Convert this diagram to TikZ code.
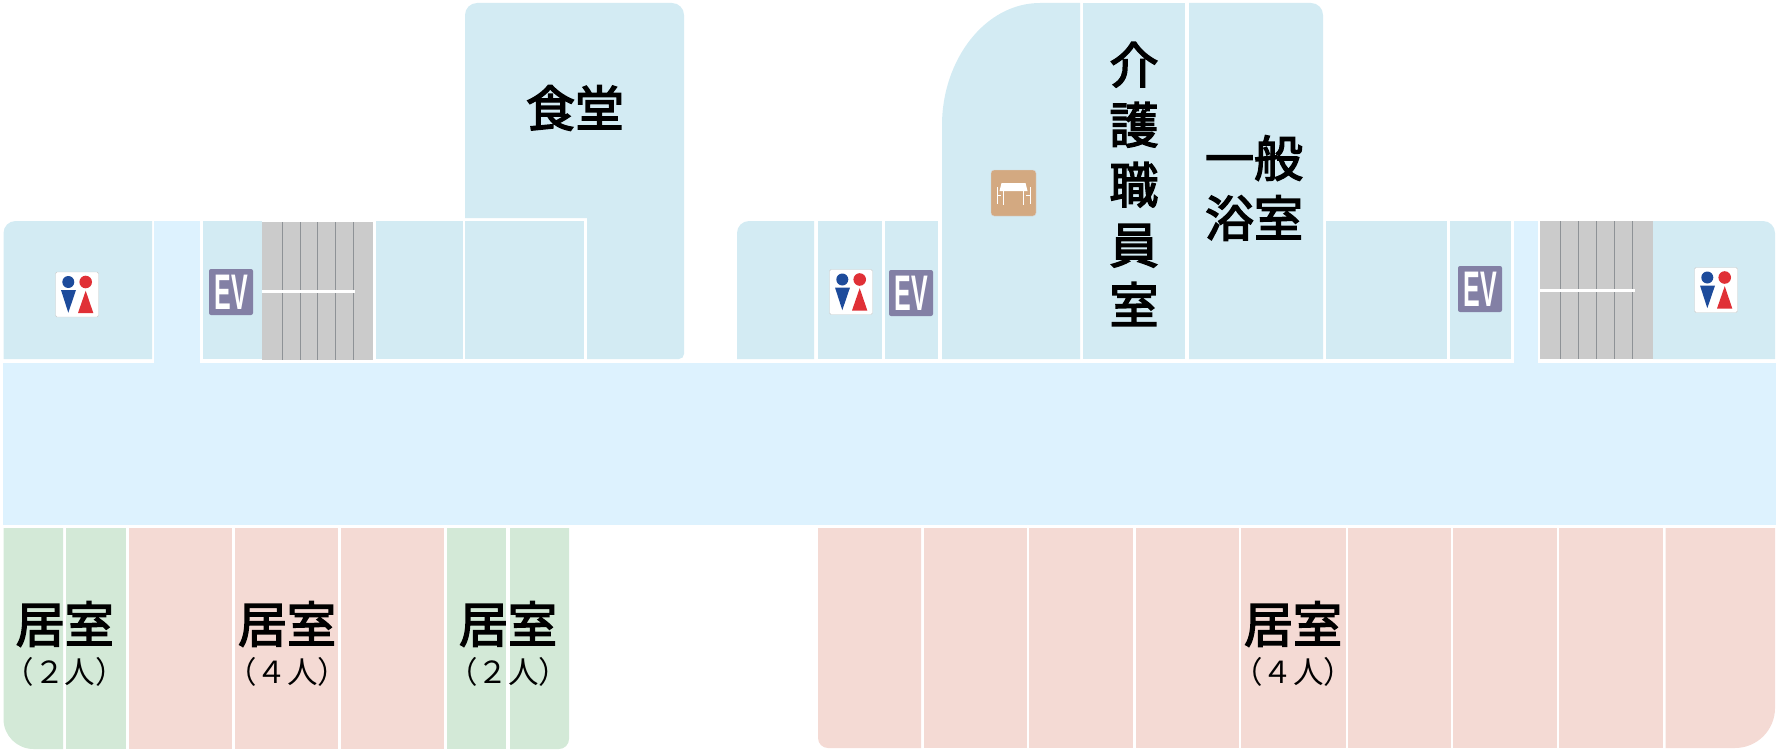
\documentclass[tikz,border=0pt]{standalone}
\usepackage{fontspec}
\setmainfont{Noto Sans CJK JP}
\newfontfamily\jptitle[FakeBold=3]{Noto Sans CJK JP}
\newfontfamily\evfont{Liberation Sans}
\begin{document}
\begin{tikzpicture}[x=1pt,y=-1pt,
    room/.style={fill=roomblue},
    corridor/.style={fill=hallblue},
    stairs/.style={fill=stairgray},
    tread/.style={draw=treadgray,line width=1pt},
    landing/.style={draw=white,line width=2.5pt},
    bigtext/.style={font=\jptitle\fontsize{49}{60}\selectfont,align=center,inner sep=0pt},
    subtext/.style={font=\fontsize{30.5}{36}\selectfont,inner sep=0pt},
    evbox/.style={fill=evpurple,rounded corners=2pt,minimum width=44pt,minimum height=46pt,inner sep=0pt},
    evtext/.style={font=\evfont\bfseries\fontsize{50}{50}\selectfont,text=white,xscale=.5,inner sep=0pt},
    wcbox/.style={fill=white,draw=black!20,line width=.4pt,rounded corners=1.5pt,minimum width=43pt,minimum height=45pt,inner sep=0pt},
    tablebox/.style={fill=tabletan,draw=black!15,line width=.4pt,rounded corners=3pt,minimum width=45pt,minimum height=46pt,inner sep=0pt},
    wcpic/.pic={
      \fill[wcblue] (-8.7,-12.5) circle (6);
      \fill[wcblue] (-16,-4.5) -- (-1,-4.5) -- (-8.7,18.2) -- cycle;
      \fill[wcred] (8.7,-12.5) circle (6.3);
      \fill[wcred] (8.7,-3.8) -- (16.3,18.5) -- (1,18.5) -- cycle;
    },
    tablepic/.pic={
      \fill[white] (-12,-10) -- (12,-10) -- (14,-2) -- (-14,-2) -- cycle;
      \draw[white,line width=1.4pt] (-10,-2) -- (-10,12) (10,-2) -- (10,12);
      \draw[white,line width=1pt] (-16.5,-6) -- (-16.5,11) (16.5,-6) -- (16.5,11)
        (-16.5,2) -- (-12.5,2) (16.5,2) -- (12.5,2);
    }]
    \definecolor{roomblue}{HTML}{D3EBF3}
    \definecolor{hallblue}{HTML}{DDF2FE}
    \definecolor{stairgray}{HTML}{CBCBCB}
    \definecolor{treadgray}{HTML}{8E9296}
    \definecolor{evpurple}{HTML}{8380A5}
    \definecolor{tabletan}{HTML}{D3A981}
    \definecolor{wcblue}{HTML}{1D4B9B}
    \definecolor{wcred}{HTML}{E03036}
    \definecolor{greenroom}{HTML}{D3E9D7}
    \definecolor{pinkroom}{HTML}{F4DAD4}
    \useasboundingbox (0,0) rectangle (1779,752);
    \fill[corridor] (3,362.5) rectangle (1776,525);
    \fill[corridor] (154,221) rectangle (200,362.5);
    \fill[corridor] (1514,221) rectangle (1538,362.5);
    \fill[room] (3.5,359) [rounded corners=12pt] -- (3.5,221) [sharp corners] -- (152,221) -- (152,359) -- cycle;
    \foreach \xa/\xb in {203/262,376/463,465/584,818/882,885/938,1326/1447,1450/1511}
      \fill[room] (\xa,221) rectangle (\xb,359);
    \fill[room] (465,218) [rounded corners=12pt] -- (465,3) -- (684,3) [rounded corners=5pt] -- (684,359) [sharp corners] -- (587,359) -- (587,218) -- cycle;
    \fill[room] (737,359) [rounded corners=12pt] -- (737,221) [sharp corners] -- (814,221) -- (814,359) -- cycle;
    \fill[room] (942,359) -- (942,125) .. controls (942,60) and (985,3) .. (1040,3) -- (1080,3) -- (1080,359) -- cycle;
    \fill[room] (1083,3) rectangle (1185,359);
    \fill[room] (1189,359) -- (1189,3) [rounded corners=12pt] -- (1323,3) [sharp corners] -- (1323,359) -- cycle;
    \fill[room] (1653,359) -- (1653,221) [rounded corners=12pt] -- (1775,221) [sharp corners] -- (1775,359) -- cycle;
    \fill[stairs] (262,222) rectangle (373,360);
    \fill[stairs] (1540,221) rectangle (1653,359);
    \foreach \x in {282.7,300,317.3,335.3,353.3}
      \draw[tread] (\x,222) -- (\x,360);
    \foreach \x in {1560.3,1578.3,1596.3,1614.3,1632.7}
      \draw[tread] (\x,221) -- (\x,359);
    \draw[landing] (262,291.7) -- (355,291.7);
    \draw[landing] (1540,290.3) -- (1634.5,290.3);
    \fill[greenroom] (3.5,528) [rounded corners=30pt] -- (3.5,749) [sharp corners] -- (63,749) -- (63,528) -- cycle;
    \foreach \xa/\xb in {66/126,447/506}
      \fill[greenroom] (\xa,528) rectangle (\xb,749);
    \fill[greenroom] (510,528) -- (569,528) [rounded corners=10pt] -- (569,749) [sharp corners] -- (510,749) -- cycle;
    \foreach \xa/\xb in {129/232,235/338,341/443.5}
      \fill[pinkroom] (\xa,528) rectangle (\xb,749);
    \fill[pinkroom] (818,528) -- (921,528) -- (921,748) [rounded corners=10pt] -- (818,748) [sharp corners] -- cycle;
    \foreach \xa/\xb in {923.6/1027,1029/1133,1136/1239,1241/1345.6,1348/1451,1453/1557,1559/1663}
      \fill[pinkroom] (\xa,528) rectangle (\xb,748);
    \fill[pinkroom] (1665.6,528) -- (1775,528) [rounded corners=40pt] -- (1775,748) [sharp corners] -- (1665.6,748) -- cycle;
    \node[wcbox] (wca) at (77,294.5) {};
    \node[wcbox] (wcb) at (851,292) {};
    \node[wcbox] (wcc) at (1716,290) {};
    \foreach \n in {wca,wcb,wcc}
      \pic at (\n) {wcpic};
    \node[evbox] (eva) at (231,292) {};
    \node[evbox] (evb) at (911,293) {};
    \node[evbox] (evc) at (1480,289) {};
    \foreach \n in {eva,evb,evc}
      \node[evtext] at (\n) {EV};
    \node[tablebox] (tbl) at (1013.5,193) {};
    \pic at (tbl) {tablepic};
    \node[bigtext] (dining) at (575,108) {食堂};
    \node[bigtext] (staff) at (1134,184) {介\\護\\職\\員\\室};
    \node[bigtext] (bath) at (1254,188) {一般\\浴室};
    \node[bigtext] (ra) at (64.7,624) {居室};
    \node[bigtext] (rb) at (287,624) {居室};
    \node[bigtext] (rc) at (508,624) {居室};
    \node[bigtext] (rd) at (1293,624) {居室};
    \node[subtext] (sa) at (64.7,672) {（２人）};
    \node[subtext] (sb) at (287,672) {（４人）};
    \node[subtext] (sc) at (508,672) {（２人）};
    \node[subtext] (sd) at (1293,672) {（４人）};
\end{tikzpicture}
\end{document}
